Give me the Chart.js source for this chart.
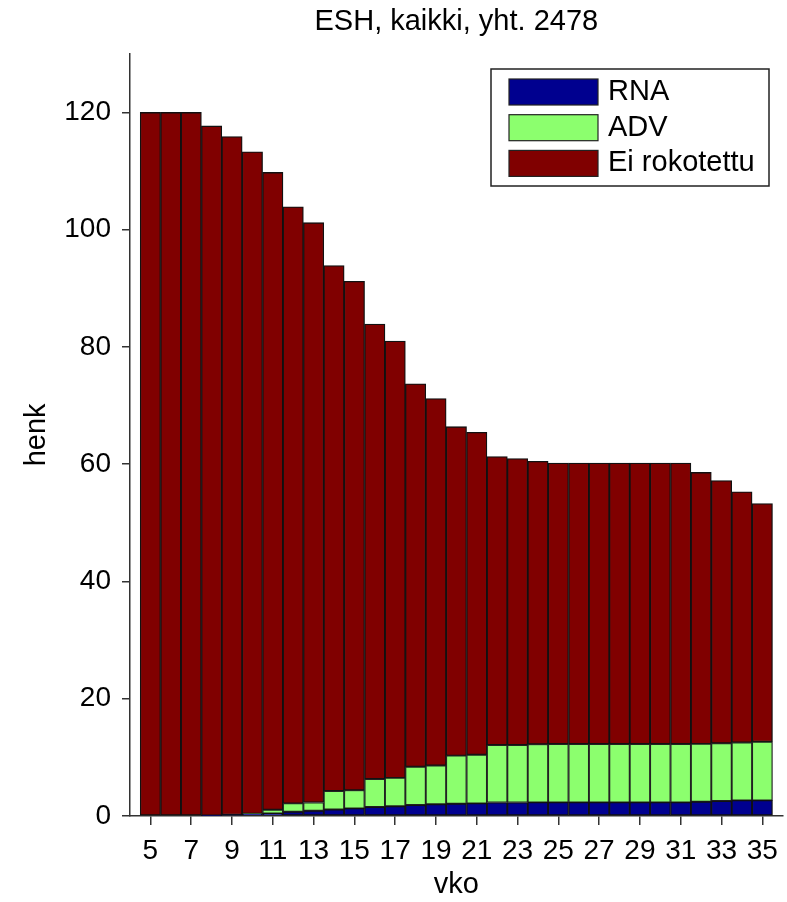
<!DOCTYPE html>
<html>
<head>
<meta charset="utf-8">
<title>ESH, kaikki</title>
<script src="https://cdn.jsdelivr.net/npm/chart.js@4.4.1/dist/chart.umd.min.js"></script>
<style>
  html, body { margin: 0; padding: 0; background: #fff; }
  #wrap { width: 787px; height: 902px; }
</style>
</head>
<body>
<div id="wrap"><canvas id="myChart" width="787" height="902"></canvas></div>
<script>
const weeks = [5, 6, 7, 8, 9, 10, 11, 12, 13, 14, 15, 16, 17, 18, 19, 20,
  21, 22, 23, 24, 25, 26, 27, 28, 29, 30, 31, 32, 33, 34, 35]

const rna = [0, 0, 0, 0.1, 0.2, 0.35, 0.45, 0.73, 0.9, 1.1, 1.3, 1.55, 1.65, 1.87, 2.0, 2.1,
  2.15, 2.3, 2.3, 2.32, 2.32, 2.32, 2.32, 2.32, 2.32, 2.32, 2.32, 2.44, 2.55, 2.66, 2.66]

const adv = [0, 0, 0, 0, 0, 0.05, 0.62, 1.42, 1.4, 3.15, 3.1, 4.75, 4.85, 6.53, 6.6, 8.2,
  8.3, 9.8, 9.8, 9.93, 9.95, 9.95, 9.95, 9.95, 9.95, 9.95, 9.95, 9.86, 9.85, 9.89, 10.0]

const eiRokotettu = [120, 120, 120, 117.6, 115.7, 112.9, 108.7, 101.75, 98.9, 89.65, 86.8, 77.6, 74.5, 65.3, 62.6, 56.1,
  55.0, 49.2, 48.85, 48.25, 47.93, 47.93, 47.93, 47.93, 47.93, 47.93, 47.93, 46.3, 44.8, 42.75, 40.64]

const xTicks = [5, 7, 9, 11, 13, 15, 17, 19, 21, 23, 25, 27, 29, 31, 33, 35]
const yTicks = [0, 20, 40, 60, 80, 100, 120]

const fontFamily = '"Liberation Sans", Arial, sans-serif'

function points(arr) {
  return arr.map((v, i) => ({ x: weeks[i], y: v }))
}

// legend box inside the plot, top right
const boxLegend = {
  id: 'boxLegend',
  afterDraw(chart) {
    const ctx = chart.ctx
    const x0 = 491, y0 = 69, w = 278, h = 117
    ctx.save()
    ctx.fillStyle = '#fff'
    ctx.fillRect(x0, y0, w, h)
    ctx.strokeStyle = '#222'
    ctx.lineWidth = 1.5
    ctx.strokeRect(x0, y0, w, h)
    ctx.font = '29px ' + fontFamily
    ctx.textBaseline = 'middle'
    chart.data.datasets.forEach((ds, i) => {
      const y = 79 + i * 35.7
      ctx.fillStyle = ds.backgroundColor
      ctx.fillRect(509, y, 89, 26)
      ctx.strokeStyle = '#222'
      ctx.lineWidth = 1.2
      ctx.strokeRect(509, y, 89, 26)
      ctx.fillStyle = '#000'
      ctx.fillText(ds.label, 608, y + 13)
    })
    ctx.restore()
  }
}

const chart = document.querySelector('#myChart')

let myChart = new Chart(chart, {
  type: 'bar',
  data: {
    datasets: [
      {
        label: 'RNA',
        data: points(rna),
        backgroundColor: '#00008f',
        borderColor: '#111',
        borderWidth: 1.3,
        borderSkipped: false
      },
      {
        label: 'ADV',
        data: points(adv),
        backgroundColor: '#8cff6e',
        borderColor: '#222',
        borderWidth: 1.3,
        borderSkipped: false
      },
      {
        label: 'Ei rokotettu',
        data: points(eiRokotettu),
        backgroundColor: '#800000',
        borderColor: '#111',
        borderWidth: 1.3,
        borderSkipped: false
      }
    ]
  },
  options: {
    responsive: false,
    animation: false,
    barPercentage: 1,
    categoryPercentage: 1,
    layout: { padding: { left: 0, right: 4, top: 0, bottom: 0 } },
    plugins: {
      legend: { display: false },
      tooltip: { enabled: false },
      title: {
        display: true,
        text: 'ESH, kaikki, yht. 2478',
        fullSize: false,
        color: '#000',
        font: { family: fontFamily, size: 29, weight: 'normal' },
        padding: { top: 5, bottom: 14 }
      }
    },
    scales: {
      x: {
        type: 'linear',
        stacked: true,
        offset: false,
        min: 4,
        max: 36,
        afterBuildTicks: (scale) => { scale.ticks = xTicks.map(v => ({ value: v })) },
        afterFit: (scale) => { scale.height = 86 },
        grid: { offset: false, drawOnChartArea: false, drawTicks: true, tickLength: 9, color: '#333', lineWidth: 1.5 },
        border: { color: '#333', width: 1.5 },
        ticks: {
          color: '#000',
          padding: 9,
          maxRotation: 0,
          autoSkip: false,
          font: { family: fontFamily, size: 28 }
        },
        title: {
          display: true,
          text: 'vko',
          color: '#000',
          font: { family: fontFamily, size: 29 },
          padding: { top: 0, bottom: 0 }
        }
      },
      y: {
        stacked: true,
        min: 0,
        max: 130,
        afterBuildTicks: (scale) => { scale.ticks = yTicks.map(v => ({ value: v })) },
        afterFit: (scale) => { scale.width = 130 },
        grid: { drawOnChartArea: false, drawTicks: true, tickLength: 8, color: '#333', lineWidth: 1.5 },
        border: { color: '#333', width: 1.5 },
        ticks: {
          color: '#000',
          padding: 11,
          font: { family: fontFamily, size: 28 }
        },
        title: {
          display: true,
          text: 'henk',
          color: '#000',
          font: { family: fontFamily, size: 29 },
          padding: { top: 20, bottom: 0 }
        }
      }
    }
  },
  plugins: [boxLegend]
});
</script>
</body>
</html>
